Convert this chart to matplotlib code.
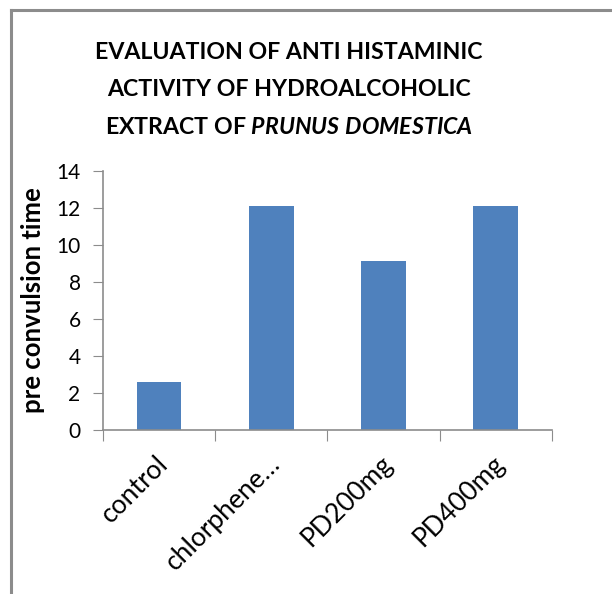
import matplotlib.pyplot as plt
import matplotlib.transforms as mtransforms
import numpy as np

categories = ["control", "chlorphene\u2026", "PD200mg", "PD400mg"]
values = [2.62, 12.1, 9.15, 12.1]

plt.rcParams['font.family'] = ['Lato', 'DejaVu Sans']
plt.rcParams['mathtext.fontset'] = 'custom'
plt.rcParams['mathtext.rm'] = 'Lato:bold'
plt.rcParams['mathtext.it'] = 'Lato:italic:bold'

fig = plt.figure(figsize=(6.12, 5.94), dpi=100)
ax = fig.add_axes([0.168, 0.276, 0.734, 0.436])

# chart border (left and top only visible)
fig.add_artist(plt.Line2D([0.018, 0.018], [0, 0.983], color="#8c8c8c", lw=2.2))
fig.add_artist(plt.Line2D([0.018, 1.0], [0.983, 0.983], color="#8c8c8c", lw=2.2))

x = np.arange(len(categories))
ax.bar(x, values, width=0.4, color="#4F81BD")
ax.set_xlim(-0.5, len(categories) - 0.5)
ax.set_ylim(0, 14)
ax.set_yticks(range(0, 15, 2))
ax.set_xticks(np.arange(-0.5, len(categories), 1.0))
ax.set_xticklabels([])
ax.set_xticks(x, minor=True)
ax.set_xticklabels(categories, minor=True, rotation=45, ha="right", va="top",
                   rotation_mode="anchor", fontsize=19)
ax.tick_params(axis="x", which="minor", length=0, pad=15)
ax.tick_params(axis="x", which="major", length=8, color="#8c8c8c", direction="out")
ax.tick_params(axis="y", length=7, color="#8c8c8c", labelsize=15, pad=9)

# nudge category labels a little to the left
shift = mtransforms.ScaledTranslation(-4 / 100, 0, fig.dpi_scale_trans)
for lbl in ax.get_xticklabels(minor=True):
    lbl.set_transform(lbl.get_transform() + shift)

for s in ["top", "right"]:
    ax.spines[s].set_visible(False)
for s in ["left", "bottom"]:
    ax.spines[s].set_color("#8c8c8c")
    ax.spines[s].set_linewidth(1.2)

ax.set_ylabel("pre convulsion time", fontsize=18.5, fontweight="bold")
ax.yaxis.label.set_va("center")
ax.yaxis.set_label_coords(-0.156, 0.5)

fig.text(0.472, 0.912, "EVALUATION OF ANTI HISTAMINIC", ha="center", va="center",
         fontsize=16.7, fontweight="bold")
fig.text(0.472, 0.849, "ACTIVITY OF HYDROALCOHOLIC", ha="center", va="center",
         fontsize=16.7, fontweight="bold")
fig.text(0.472, 0.786, r"EXTRACT OF $\mathit{PRUNUS\ DOMESTICA}$", ha="center",
         va="center", fontsize=16.7, fontweight="bold")

fig.savefig("out.png", dpi=100)
